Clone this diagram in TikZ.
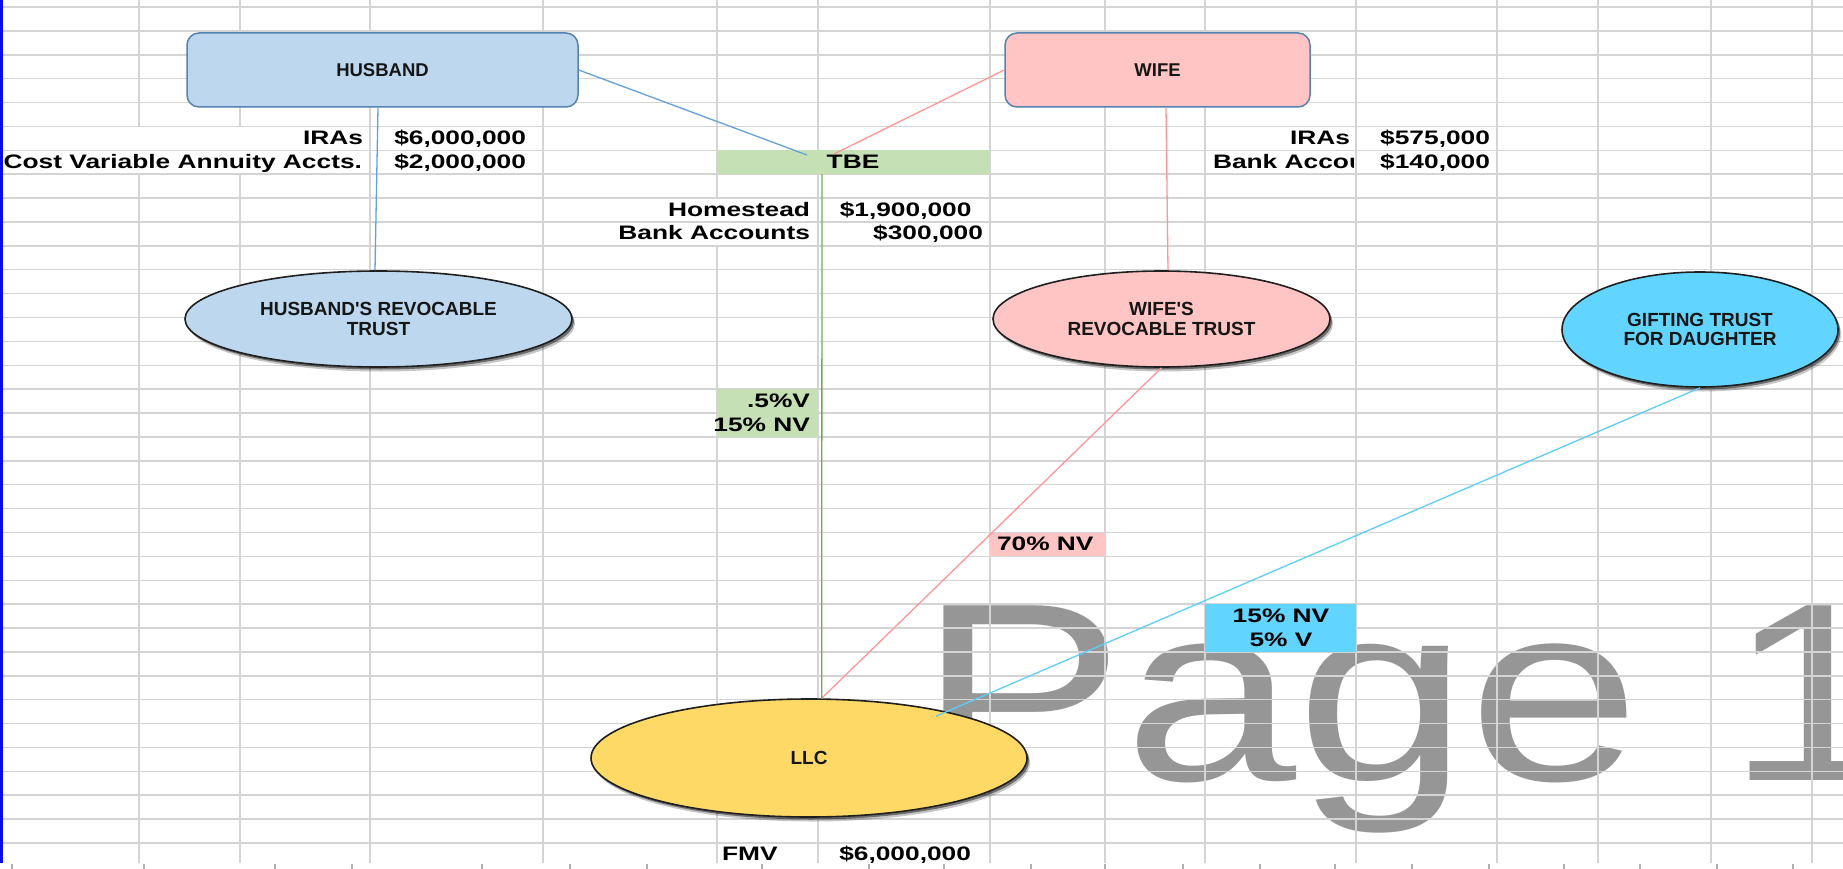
\documentclass[tikz,border=0pt]{standalone}
\usepackage{fontspec}
\setmainfont{Liberation Sans}
\newfontfamily\shapefont{Liberation Sans}[Ligatures=TeXOff]
\usepackage{graphicx}
\usetikzlibrary{shapes.geometric,shadows}

\definecolor{gridgray}{RGB}{212,212,212}
\definecolor{tickgray}{RGB}{175,175,175}
\definecolor{pagegray}{RGB}{150,150,150}
\definecolor{breakblue}{RGB}{12,12,230}
\definecolor{hubfill}{RGB}{189,215,238}
\definecolor{wifefill}{RGB}{255,196,196}
\definecolor{giftfill}{RGB}{97,213,255}
\definecolor{llcfill}{RGB}{255,217,102}
\definecolor{tbefill}{RGB}{197,224,180}
\definecolor{boxline}{RGB}{84,130,177}
\definecolor{hubline}{RGB}{100,160,220}
\definecolor{wifeline}{RGB}{255,150,150}
\definecolor{tbeline}{RGB}{112,173,71}
\definecolor{giftline}{RGB}{95,205,250}
\definecolor{shapetext}{RGB}{22,22,22}

% spreadsheet cell lettering: wide bold sans
\newcommand{\celltext}[1]{\scalebox{1.35}[1]{\fontsize{19.5}{19.5}\selectfont\bfseries #1}}

\begin{document}
\begin{tikzpicture}[x=1pt,y=-1pt,
  grid/.style={draw=gridgray, line width=1.5pt},
  tickmark/.style={draw=tickgray, line width=1.5pt},
  cell/.style={inner sep=0pt, outer sep=0pt, text=black},
  person/.style={draw=boxline, line width=1.5pt, rounded corners=12pt,
    minimum height=74pt, inner sep=0pt, text=shapetext,
    font=\shapefont\fontsize{18.5}{19.5}\selectfont\bfseries},
  entity/.style={ellipse, draw=black!88, line width=1.6pt, inner sep=0pt,
    align=center, text=shapetext, font=\shapefont\fontsize{19}{19.5}\selectfont\bfseries,
    drop shadow={shadow xshift=3pt, shadow yshift=-4.5pt, opacity=.22, fill=black},
    drop shadow={shadow xshift=2pt, shadow yshift=-2.5pt, opacity=.45, fill=black}},
  link/.style={line width=1.3pt}
]
\useasboundingbox (0,0) rectangle (1843,869);
\clip (0,0) rectangle (1843,869);
\fill[white] (0,0) rectangle (1843,869);

% page watermark
\node[anchor=base west, inner sep=0pt, text=pagegray] (pagemark) at (918,780)
  {\scalebox{1.218}[1]{\fontsize{254}{254}\selectfont Page 1}};

% sheet grid
\foreach \k in {0,...,35} {
  \draw[grid] (0,{7+23.886*\k}) -- (1843,{7+23.886*\k});
}
\foreach \c in {370,543,818,990,1105,1205,1356,1497,1598,1711,1812} {
  \draw[grid] (\c,0) -- (\c,863);
}
\foreach \c in {139,240} {
  \draw[grid] (\c,0) -- (\c,126.4) (\c,174.2) -- (\c,863);
}
\draw[grid] (717,0) -- (717,198.1) (717,245.9) -- (717,863);
\foreach \t in {12,144,275,352,482,570,647,762,869,944,1031,1105,1183,1260,1335,1412,1489,1564,1640,1717,1793} {
  \draw[tickmark] (\t,863.5) -- (\t,869);
}

% shaded cells
\fill[tbefill] (717,150.3) rectangle (989,174.2);
\fill[tbefill] (717,389.2) rectangle (817,437);
\fill[wifefill] (989,532.5) rectangle (1105,556.4);
\fill[giftfill] (1205,604.2) rectangle (1356,652);

% page break border
\fill[breakblue] (0,0) rectangle (2.7,863);

% husband's assets
\node[cell, anchor=base east] (hIraL) at (363,144.3) {\celltext{IRAs}};
\node[cell, anchor=base east] (hIraV) at (526,144.3) {\celltext{\$6,000,000}};
\node[cell, anchor=base east] (hAnnL) at (362,168.2) {\celltext{Cost Variable Annuity Accts.}};
\node[cell, anchor=base east] (hAnnV) at (526,168.2) {\celltext{\$2,000,000}};

% tenancy by the entirety
\node[cell, anchor=base] (TBE) at (853,168.2) {\celltext{TBE}};
\coordinate (tbeH) at (807,155);
\coordinate (tbeW) at (834,154);
\coordinate (tbeFoot) at (822,174.2);
\node[cell, anchor=base east] (homeL) at (810,216) {\celltext{Homestead}};
\node[cell, anchor=base east] (homeV) at (971.5,216) {\celltext{\$1,900,000}};
\node[cell, anchor=base east] (bankL) at (810,239.9) {\celltext{Bank Accounts}};
\node[cell, anchor=base east] (bankV) at (983,239.9) {\celltext{\$300,000}};

% wife's assets
\node[cell, anchor=base east] (wIraL) at (1350,144.3) {\celltext{IRAs}};
\node[cell, anchor=base east] (wIraV) at (1490,144.3) {\celltext{\$575,000}};
\begin{scope}
  \clip (1205,150.3) rectangle (1353,174.2);
  \node[cell, anchor=base west] (wBankL) at (1213,168.2) {\celltext{Bank Accounts}};
\end{scope}
\node[cell, anchor=base east] (wBankV) at (1490,168.2) {\celltext{\$140,000}};

% ownership shares
\node[cell, anchor=base east] (tbeV) at (810,407.1) {\celltext{.5\%V}};
\node[cell, anchor=base east] (tbeNV) at (810,431) {\celltext{15\% NV}};
\node[cell, anchor=base west] (wifeNV) at (997,550.4) {\celltext{70\% NV}};
\node[cell, anchor=base] (giftNV) at (1281,622.1) {\celltext{15\% NV}};
\node[cell, anchor=base] (giftV) at (1281,646) {\celltext{5\% V}};

% LLC value
\node[cell, anchor=base west] (fmvL) at (722,860.9) {\celltext{FMV}};
\node[cell, anchor=base east] (fmvV) at (971,860.9) {\celltext{\$6,000,000}};

% owners
\node[person, fill=hubfill, minimum width=391pt] (H) at (382.5,70) {HUSBAND};
\node[person, fill=wifefill, minimum width=305pt] (W) at (1157.5,70) {WIFE};

% trusts and the company
\node[entity, fill=hubfill, minimum width=387pt, minimum height=96pt] (HT) at (378.5,319)
  {HUSBAND'S REVOCABLE\\TRUST};
\node[entity, fill=wifefill, minimum width=337pt, minimum height=96pt] (WT) at (1161.5,319)
  {WIFE'S\\REVOCABLE TRUST};
\node[entity, fill=giftfill, minimum width=276pt, minimum height=115pt] (GT) at (1700,329.5)
  {GIFTING TRUST\\FOR DAUGHTER};
\node[entity, fill=llcfill, minimum width=436pt, minimum height=118pt] (LLC) at (809,758)
  {LLC};

% connectors
\draw[link, hubline] (H.east) -- (tbeH);
\draw[link, hubline] ([xshift=-4.5pt]H.south) -- ([xshift=-3.5pt]HT.north);
\draw[link, wifeline] (W.west) -- (tbeW);
\draw[link, wifeline] ([xshift=8.5pt]W.south) -- ([xshift=6.5pt]WT.north);
\draw[link, wifeline] (WT.south) -- (LLC.78);
\draw[link, tbeline] (tbeFoot) -- (LLC.78);
\draw[link, giftline] (GT.south) -- ([yshift=-7pt]LLC.21);
\end{tikzpicture}
\end{document}
